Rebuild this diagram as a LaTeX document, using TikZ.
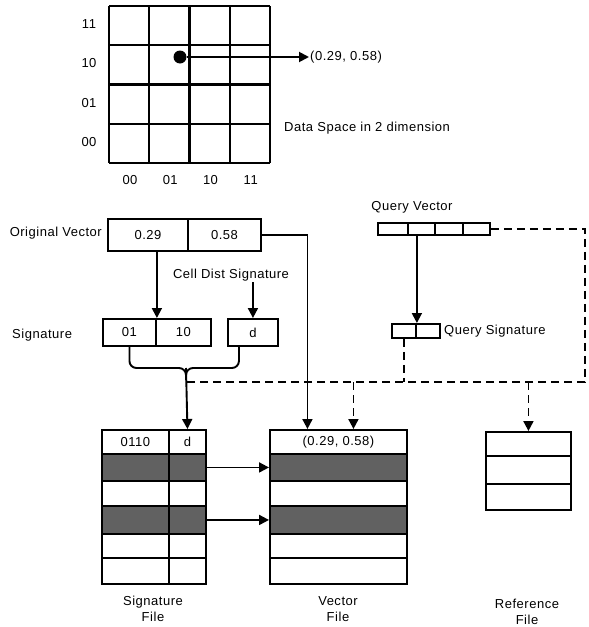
\documentclass[tikz,border=0pt]{standalone}
\usepackage{fontspec}
\setmainfont{Liberation Sans}[LetterSpace=4]
\usetikzlibrary{arrows.meta}
\definecolor{shade}{gray}{0.38}
\tikzset{
  box/.style={draw, line width=1.9pt, inner sep=0pt, anchor=north west},
  flow/.style={-{Triangle[length=10pt,width=10pt]}, line width=1.9pt},
  qline/.style={line width=1.9pt, dash pattern=on 8pt off 5pt},
  qflow/.style={flow, dash pattern=on 8pt off 5pt},
  lbl/.style={inner sep=1pt},
}
\begin{document}
\begin{tikzpicture}[x=1pt, y=-1pt, font=\fontsize{13}{15.5}\selectfont]
    \useasboundingbox (0,0) rectangle (589,627);
    % Data space grid
    \foreach \i in {0,...,4} {
        \draw[line width=2.2pt] (109+\i*40.25,6) -- ++(0,157);
        \draw[line width=2.2pt] (109,6+\i*39.25) -- ++(161,0);
    }
    \foreach \v [count=\i from 0] in {11,10,01,00}
        \node[lbl] (row\i) at (89,24+\i*39.5) {\v};
    \foreach \v [count=\i from 0] in {00,01,10,11}
        \node[lbl] (col\i) at (130+\i*40.25,180) {\v};
    \node[circle, fill, minimum size=13pt, inner sep=0pt] (pt) at (180,57) {};
    \node[lbl, anchor=west] (ptlbl) at (309,57) {(0.29, 0.58)};
    \draw[flow] (pt) -- (ptlbl);
    \node[lbl, anchor=west] (dspace) at (283,128) {Data Space in 2 dimension};
    % Original vector and signature
    \node[lbl, anchor=east] (ovlbl) at (103,233) {Original Vector};
    \node[box, minimum width=80pt, minimum height=32pt] (ov1) at (107,218) {0.29};
    \node[box, minimum width=73pt, minimum height=32pt] (ov2) at (187,218) {0.58};
    \node[lbl] (cds) at (231,275) {Cell Dist Signature};
    \node[lbl, anchor=west] (siglbl) at (11,335) {Signature};
    \node[box, minimum width=53pt, minimum height=27pt] (sig1) at (102,318) {01};
    \node[box, minimum width=55pt, minimum height=27pt] (sig2) at (155,318) {10};
    \node[box, minimum width=50pt, minimum height=27pt] (sigd) at (227,318) {d};
    \draw[flow] (sig1.north east |- ov1.south) -- (sig1.north east);
    \draw[flow] (cds.south -| sigd.north) -- (sigd.north);
    % Query vector and query signature
    \node[lbl] (qvlbl) at (412,207) {Query Vector};
    \foreach \l/\w [count=\i] in {377/30,407/27,434/28,462/27}
        \node[box, minimum width=\w pt, minimum height=12pt] (qv\i) at (\l,222) {};
    \node[box, minimum width=24pt, minimum height=14pt] (qs1) at (391,323) {};
    \node[box, minimum width=24pt, minimum height=14pt] (qs2) at (415,323) {};
    \node[lbl, anchor=west] (qslbl) at (443,331) {Query Signature};
    \draw[flow] (qs1.north east |- qv2.south) -- (qs1.north east);
    % Signature file
    \node[box, minimum width=67pt, minimum height=24pt] (sfa1) at (101,429) {0110};
    \node[box, minimum width=37pt, minimum height=24pt] (sfd1) at (168,429) {d};
    \node[box, minimum width=137pt, minimum height=24pt] (vf1) at (269,429) {(0.29, 0.58)};
    \foreach \t/\b/\s [count=\i from 2] in {453/480/shade,480/505/white,505/533/shade,533/557/white,557/583/white} {
        \node[box, fill=\s, minimum width=67pt, minimum height={(\b-\t)*1pt}] (sfa\i) at (101,\t) {};
        \node[box, fill=\s, minimum width=37pt, minimum height={(\b-\t)*1pt}] (sfd\i) at (168,\t) {};
        \node[box, fill=\s, minimum width=137pt, minimum height={(\b-\t)*1pt}] (vf\i) at (269,\t) {};
    }
    % Reference file
    \foreach \t/\b [count=\i] in {431/455,455/483,483/509}
        \node[box, minimum width=85pt, minimum height={(\b-\t)*1pt}] (rf\i) at (485,\t) {};
    \node[lbl, align=center] (sflbl) at (153,609) {Signature\\File};
    \node[lbl, align=center] (vflbl) at (338,609) {Vector\\File};
    \node[lbl, align=center] (rflbl) at (527,612) {Reference\\File};
    % Brace into signature file
    \coordinate (bj) at (186,368);
    \draw[line width=1.9pt, rounded corners=7pt] (sig1.south) |- (bj) -- ++(0,12);
    \draw[line width=1.9pt, rounded corners=7pt] ([xshift=-14pt]sigd.south) |- (bj) -- ++(0,12);
    \draw[flow] (bj) -- (sfd1.north);
    \draw[flow] (ov2.east) -| ([xshift=-31pt]vf1.north);
    \draw[flow] (sfd2.east) -- (vf2.west);
    \draw[flow] (sfd4.east) -- (vf4.west);
    % Query paths
    \coordinate (dl) at (186,382);
    \coordinate (dr) at (585,382);
    \draw[qline] (qv4.east) -| (dr) -- (dl);
    \draw[qline] (qs1.south) -- (qs1.south |- dl);
    \draw[qflow] ([xshift=15pt]vf1.north |- dl) -- ([xshift=15pt]vf1.north);
    \draw[qflow] (rf1.north |- dl) -- (rf1.north);
\end{tikzpicture}
\end{document}
